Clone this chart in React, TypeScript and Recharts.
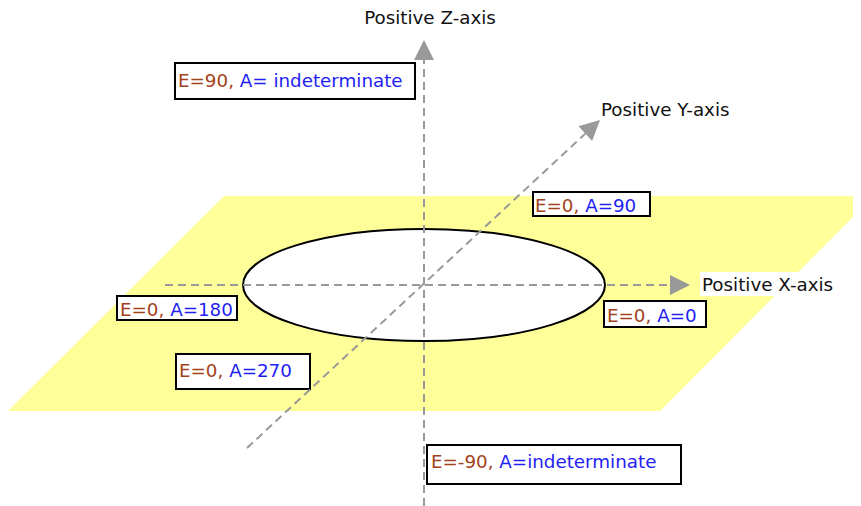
import {
  ComposedChart, Area, XAxis, YAxis, ReferenceLine, ReferenceArea, ReferenceDot,
} from "recharts";

const W = 861;
const H = 506;

const FONT = "DejaVu Sans";
const BROWN = "#A3421A";
const BLUE = "#1E1EF5";
const DASH = "#999999";
const PLANE = "#FFFF99";

// horizontal plane (parallelogram), as a range area: x -> [top, bottom]
const PLANE_X = [8, 224, 660, 861];
const PLANE_TOP = [411, 196, 196, 196];
const PLANE_BOTTOM = [411, 411, 411, 209];

// equator ellipse bounding box
const RING_X = [243, 605];
const RING_Y = [229, 341];

// axes: start point -> arrow tip
const AXIS_NAMES = ["Positive X-axis", "Positive Y-axis", "Positive Z-axis"];
const AXIS_X1 = [165, 247, 424];
const AXIS_Y1 = [285, 448, 506];
const AXIS_X2 = [690, 600, 424];
const AXIS_Y2 = [285, 120, 40];
const AXIS_LABEL_X = [702, 601, 430];
const AXIS_LABEL_Y = [291, 116, 24];
const AXIS_ANCHOR = ["start", "start", "middle"];

// direction labels
const DIR_E = ["E=90, ", "E=0, ", "E=0, ", "E=0, ", "E=0, ", "E=-90, "];
const DIR_A = ["A= indeterminate", "A=90", "A=180", "A=0", "A=270", "A=indeterminate"];
const BOX_X1 = [175, 533, 117, 604, 176, 427];
const BOX_X2 = [415, 650, 237, 706, 310, 681];
const BOX_Y1 = [63, 192, 296, 301, 354, 445];
const BOX_Y2 = [99, 216, 320, 327, 389, 484];
const TEXT_X = [178, 535, 120, 607, 179, 431];
const TEXT_Y = [87, 212, 316, 322, 377, 468];

const planeData = PLANE_X.map((x, i) => ({ x, plane: [PLANE_TOP[i], PLANE_BOTTOM[i]] }));

// eslint-disable-next-line @typescript-eslint/no-explicit-any
function ArrowLine(props: any) {
  const { x1, y1, x2, y2 } = props;
  const dx = x2 - x1;
  const dy = y2 - y1;
  const len = Math.sqrt(dx * dx + dy * dy) || 1;
  const ux = dx / len;
  const uy = dy / len;
  const bx = x2 - ux * 20;
  const by = y2 - uy * 20;
  const px = -uy * 10;
  const py = ux * 10;
  return (
    <g>
      <line x1={x1} y1={y1} x2={bx} y2={by} stroke={DASH} strokeWidth={2} strokeDasharray="8 5" />
      <polygon points={`${x2},${y2} ${bx + px},${by + py} ${bx - px},${by - py}`} fill={DASH} />
    </g>
  );
}

export default function App() {
  return (
    <div style={{ margin: "-8px 0 0 -8px", width: W, height: H, background: "#fff" }}>
      <ComposedChart width={W} height={H} data={planeData} margin={{ top: 0, right: 0, bottom: 0, left: 0 }}>
        <XAxis type="number" dataKey="x" domain={[0, W]} hide allowDataOverflow />
        <YAxis type="number" domain={[0, H]} reversed hide allowDataOverflow />
        <Area
          type="linear"
          dataKey="plane"
          stroke="none"
          fill={PLANE}
          fillOpacity={1}
          dot={false}
          activeDot={false}
          isAnimationActive={false}
        />
        <ReferenceArea
          x1={RING_X[0]} x2={RING_X[1]} y1={RING_Y[0]} y2={RING_Y[1]}
          ifOverflow="visible"
          // eslint-disable-next-line @typescript-eslint/no-explicit-any
          shape={(p: any) => (
            <ellipse cx={p.x + p.width / 2} cy={p.y + p.height / 2} rx={p.width / 2} ry={p.height / 2}
              fill="#fff" stroke="#000" strokeWidth={2} />
          )}
        />
        {AXIS_NAMES.map((n, i) => (
          <ReferenceLine
            key={n}
            segment={[{ x: AXIS_X1[i], y: AXIS_Y1[i] }, { x: AXIS_X2[i], y: AXIS_Y2[i] }]}
            ifOverflow="visible"
            shape={ArrowLine}
          />
        ))}
        {AXIS_NAMES.map((n, i) => (
          <ReferenceDot
            key={`lbl-${n}`}
            x={AXIS_LABEL_X[i]}
            y={AXIS_LABEL_Y[i]}
            ifOverflow="visible"
            // eslint-disable-next-line @typescript-eslint/no-explicit-any
            shape={(p: any) => (
              <g>
                {i === 0 && <rect x={p.cx - 2} y={p.cy - 19} width={136} height={24} fill="#fff" />}
                <text x={p.cx} y={p.cy} textAnchor={AXIS_ANCHOR[i]} fontFamily={FONT} fontSize={18.3} fill="#111">
                  {n}
                </text>
              </g>
            )}
          />
        ))}
        {DIR_E.map((e, i) => (
          <ReferenceArea
            key={`box-${i}`}
            x1={BOX_X1[i]} x2={BOX_X2[i]} y1={BOX_Y1[i]} y2={BOX_Y2[i]}
            ifOverflow="visible"
            // eslint-disable-next-line @typescript-eslint/no-explicit-any
            shape={(p: any) => (
              <rect x={p.x} y={p.y} width={p.width} height={p.height} fill="#fff" stroke="#000" strokeWidth={2} />
            )}
          />
        ))}
        {DIR_E.map((e, i) => (
          <ReferenceDot
            key={`txt-${i}`}
            x={TEXT_X[i]}
            y={TEXT_Y[i]}
            ifOverflow="visible"
            // eslint-disable-next-line @typescript-eslint/no-explicit-any
            shape={(p: any) => (
              <text x={p.cx} y={p.cy} fontFamily={FONT} fontSize={18.3}>
                <tspan fill={BROWN}>{e}</tspan>
                <tspan fill={BLUE}>{DIR_A[i]}</tspan>
              </text>
            )}
          />
        ))}
      </ComposedChart>
    </div>
  );
}
